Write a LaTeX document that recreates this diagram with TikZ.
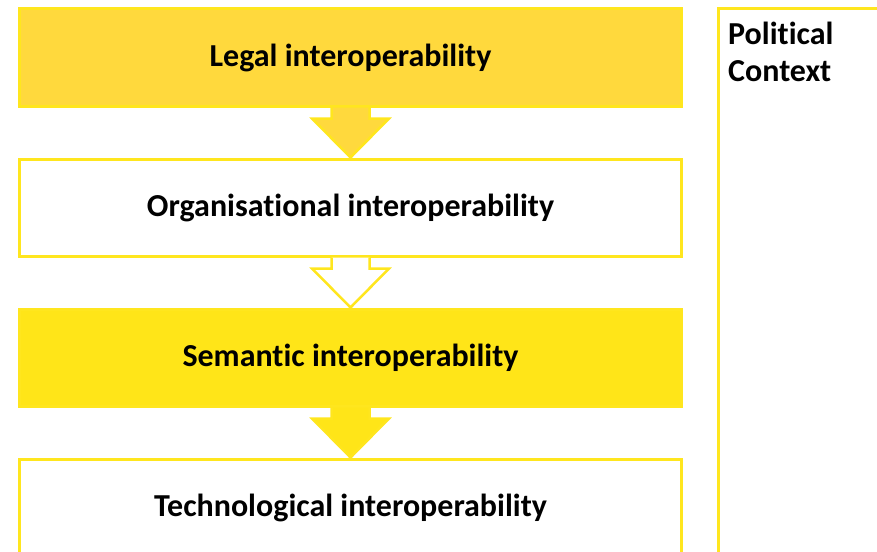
\documentclass[tikz,border=0pt]{standalone}
\usepackage{fontspec}
\setmainfont{Carlito}[Ligatures=NoCommon]
\usetikzlibrary{positioning,shadows}
\definecolor{legalgold}{RGB}{255,217,61}
\definecolor{semyellow}{RGB}{255,229,24}
\definecolor{edgeyellow}{RGB}{255,230,30}

\begin{document}
\begin{tikzpicture}[x=1pt,y=-1pt,
    layer/.style={draw=edgeyellow,line width=3pt,minimum width=662pt,minimum height=97pt,
      inner sep=0pt,font=\fontsize{32}{38}\selectfont\bfseries,
      drop shadow={opacity=.25,shadow xshift=1.5pt,shadow yshift=-1.5pt}},
    blockarrow/.style={draw=edgeyellow,line width=2.5pt,line join=miter}]
    \useasboundingbox (0,0) rectangle (877,551);

    % the four layers
    \node[layer,fill=legalgold] (legal) at (350.5,57.5) {Legal interoperability};
    \node[layer,fill=white,below=50pt of legal] (org) {Organisational interoperability};
    \node[layer,fill=semyellow,below=50pt of org] (sem) {Semantic interoperability};
    \node[layer,fill=white,below=50pt of sem] (tech) {Technological interoperability};

    % arrows between the layers
    \filldraw[blockarrow,fill=legalgold] ([xshift=-19pt]legal.south) -- ++(0,11) -- ++(-19.5,0)
        -- (org.north) -- ++(38.5,-39) -- ++(-19.5,0) -- ++(0,-11);
    \filldraw[blockarrow,fill=white] ([xshift=-19pt]org.south) -- ++(0,11) -- ++(-19.5,0)
        -- (sem.north) -- ++(38.5,-39) -- ++(-19.5,0) -- ++(0,-11);
    \filldraw[blockarrow,fill=semyellow] ([xshift=-19pt]sem.south) -- ++(0,11) -- ++(-19.5,0)
        -- (tech.north) -- ++(38.5,-39) -- ++(-19.5,0) -- ++(0,-11);

    % context column
    \node[draw=edgeyellow,line width=3pt,fill=white,minimum width=200pt,minimum height=600pt,
      anchor=north west,drop shadow={opacity=.25,shadow xshift=1.5pt,shadow yshift=-1.5pt}] (ctx) at (717,7) {};
    \node[anchor=north west,align=left,inner sep=0pt,font=\fontsize{32}{37}\selectfont\bfseries]
      (ctxtext) at ([xshift=11pt,yshift=-15pt]ctx.north west) {Political\\Context};
\end{tikzpicture}
\end{document}
